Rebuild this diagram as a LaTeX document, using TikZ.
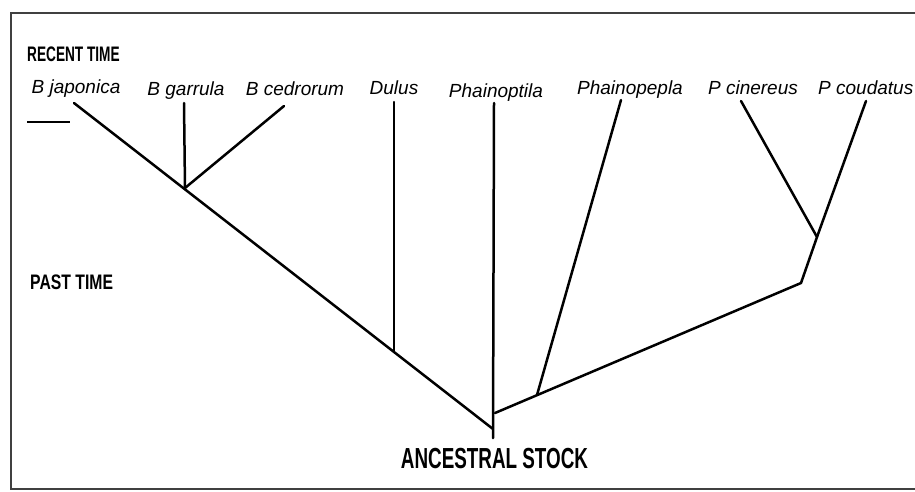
\documentclass[tikz,border=0pt]{standalone}
\usepackage{fontspec}
\setmainfont{Liberation Sans}
\newfontfamily\headfont[FakeStretch=0.65]{Liberation Sans}
\newfontfamily\pastfont[FakeStretch=0.75]{Liberation Sans}
\tikzset{
  taxon/.style={anchor=base,inner sep=0pt,font=\fontsize{19}{22}\selectfont\itshape},
  era/.style={anchor=base west,inner sep=0pt},
  branch/.style={line width=2.5pt,line cap=round,line join=round},
}
\begin{document}
\begin{tikzpicture}[x=1pt,y=-1pt]
  \useasboundingbox (0,0) rectangle (915,491);
  \clip (0,0) rectangle (915,491);
  % frame, open on the right
  \draw[line width=2pt,black!75] (925,13) -- (10.5,13) -- (10.5,488.5) -- (925,488.5);
  % time labels
  \node[era,font=\headfont\bfseries\fontsize{21}{24}\selectfont] (recent) at (27,61){RECENT TIME};
  \node[era,font=\pastfont\bfseries\fontsize{21}{24}\selectfont] (past) at (30,289){PAST TIME};
  \node[anchor=base,inner sep=0pt,font=\headfont\bfseries\fontsize{29}{32}\selectfont] (stock) at (494.5,468){ANCESTRAL STOCK};
  \draw[line width=1.5pt] (27,122) -- (70,122);
  % taxa
  \node[taxon] (jap) at (76,93){B japonica};
  \node[taxon] (gar) at (186,95){B garrula};
  \node[taxon] (ced) at (295,95){B cedrorum};
  \node[taxon] (dul) at (394,94){Dulus};
  \node[taxon] (pto) at (496,97){Phainoptila};
  \node[taxon] (ppe) at (630,94){Phainopepla};
  \node[taxon] (cin) at (753,94){P cinereus};
  \node[taxon,anchor=base west] (cou) at (818,94){P coudatus};
  % branch tips and joints
  \coordinate (tjap) at (74,103);
  \coordinate (tgar) at (184,103);
  \coordinate (tced) at (284,106);
  \coordinate (tdul) at (394,102);
  \coordinate (tpto) at (494,103);
  \coordinate (tppe) at (621,100);
  \coordinate (tcin) at (741,101);
  \coordinate (tcou) at (866,101);
  \coordinate (jb) at (185,188);
  \coordinate (jd) at (394,352);
  \coordinate (root) at (493,429);
  \coordinate (base) at (493,438);
  \coordinate (jr) at (495,413);
  \coordinate (jpe) at (537,395);
  \coordinate (bend) at (801,283);
  \coordinate (jp) at (817,237);
  % tree
  \draw[branch] (tjap) -- (root);
  \draw[branch] (tgar) -- (jb);
  \draw[branch] (tced) -- (jb);
  \draw[branch] (tdul) -- (jd);
  \draw[branch] (tpto) -- (base);
  \draw[branch] (jr) -- (bend) -- (jp) -- (tcou);
  \draw[branch] (tppe) -- (jpe);
  \draw[branch] (tcin) -- (jp);
\end{tikzpicture}
\end{document}
